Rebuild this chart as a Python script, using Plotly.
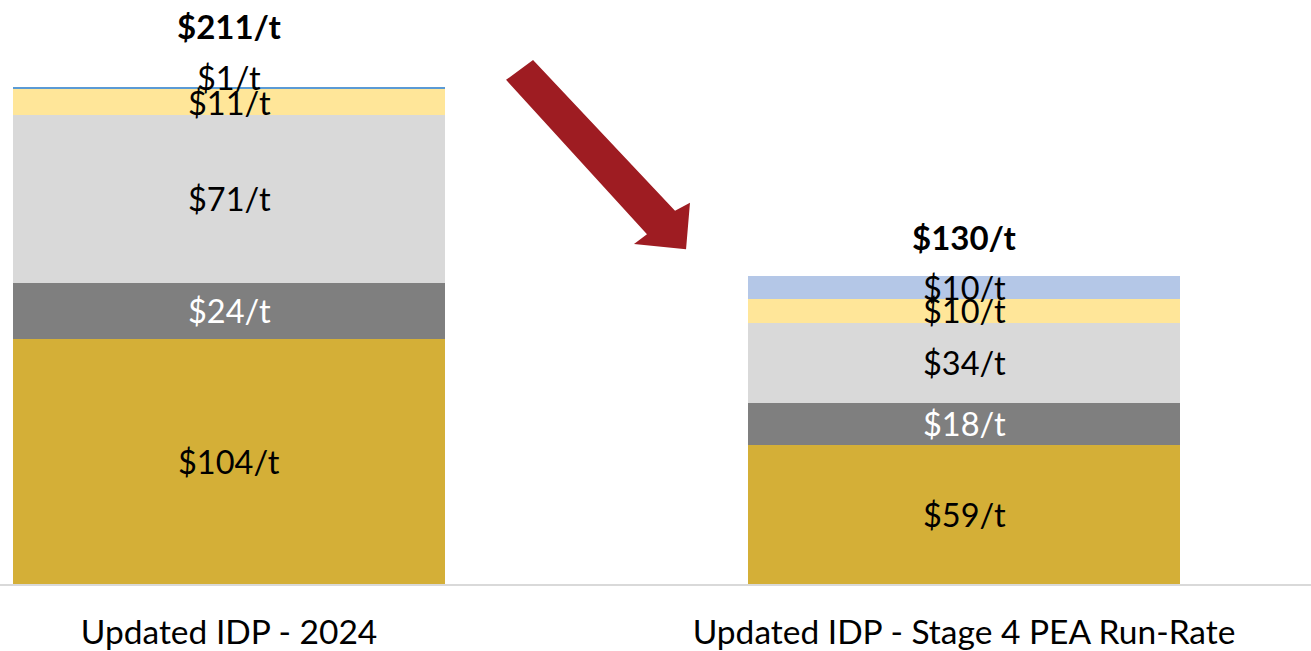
import plotly.graph_objects as go
import numpy as np

# Cost build-up per tonne for the two cases
categories = ["Updated IDP - 2024", "Updated IDP - Stage 4 PEA Run-Rate"]
seg_gold = [104, 59]
seg_dark = [24, 18]
seg_light = [71, 34]
seg_yellow = [11, 10]
seg_blue = [1, 10]
totals = [211, 130]

FONT = "Lato"
x_pos = [0, 1]

series = [
    (seg_gold, "#D4AF37", "black"),
    (seg_dark, "#7F7F7F", "white"),
    (seg_light, "#D9D9D9", "black"),
    (seg_yellow, "#FFE699", "black"),
    (seg_blue, ["#5B9BD5", "#B4C7E7"], "black"),
]

fig = go.Figure()
base = np.zeros(len(categories))
annotations = []
for vals, color, tcolor in series:
    fig.add_trace(go.Bar(
        x=x_pos, y=vals, marker=dict(color=color, line=dict(width=0)),
        width=0.588, showlegend=False, hoverinfo="skip",
    ))
    for i, v in enumerate(vals):
        mid = base[i] + v / 2
        annotations.append(dict(
            x=x_pos[i], y=mid, xref="x", yref="y", text=f"${v}/t",
            showarrow=False, yshift=(11 if v < 5 else 0),
            font=dict(family=FONT, size=32.5, color=tcolor),
        ))
    base += np.array(vals)

# Totals above each stack
total_shift = [39, 19]
for i, t in enumerate(totals):
    annotations.append(dict(
        x=x_pos[i], y=t, xref="x", yref="y", text=f"<b>${t}/t</b>",
        showarrow=False, yanchor="bottom", yshift=total_shift[i],
        font=dict(family=FONT, size=33, color="black"),
    ))

fig.update_layout(
    barmode="stack",
    width=1311, height=651,
    margin=dict(l=0, r=0, t=0, b=67),
    plot_bgcolor="white", paper_bgcolor="white",
    annotations=annotations,
    xaxis=dict(
        range=[-0.3116, 1.472], tickvals=x_pos, ticktext=categories,
        showgrid=False, zeroline=False, showline=True,
        linecolor="#D9D9D9", linewidth=2, ticks="",
        tickfont=dict(family=FONT, size=33.5, color="black"),
        ticklabelstandoff=18, automargin=False,
    ),
    yaxis=dict(range=[0, 248], visible=False, automargin=False),
    shapes=[dict(
        type="path", xref="paper", yref="paper",
        path=("M 0.3860,0.8633 L 0.4066,0.8971 L 0.5149,0.6390 "
              "L 0.5263,0.6528 L 0.5233,0.5730 L 0.4836,0.5822 "
              "L 0.4935,0.5991 Z"),
        fillcolor="#9E1C22", line=dict(width=0),
    )],
)

fig.write_html("out.html")
